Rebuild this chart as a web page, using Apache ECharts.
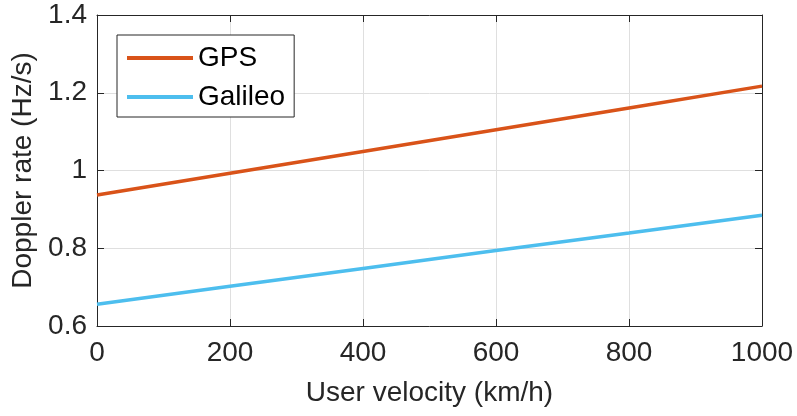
<!DOCTYPE html>
<html>
<head>
<meta charset="utf-8">
<script src="https://cdn.jsdelivr.net/npm/echarts@6/dist/echarts.min.js"></script>
<style>html,body{margin:0;padding:0;background:#fff}#c{width:797px;height:416px}</style>
</head>
<body>
<div id="c"></div>
<script>
var velocity = [0, 200, 400, 600, 800, 1000];
var gps = [0.937, 0.993, 1.049, 1.105, 1.161, 1.217];
var galileo = [0.656, 0.702, 0.748, 0.794, 0.839, 0.885];
var seriesNames = ['GPS', 'Galileo'];
var xTitle = 'User velocity (km/h)';
var yTitle = 'Doppler rate (Hz/s)';

var FONT = 'Liberation Sans, Arial, sans-serif';
var AX = '#262626';
var FS = 28;
function pairs(xs, ys){ return xs.map(function(x,i){ return [x, ys[i]]; }); }

var chart = echarts.init(document.getElementById('c'), null, {renderer:'canvas'});
var axisCommon = {
  axisLine:{show:true, onZero:false, lineStyle:{color:AX, width:1}},
  axisTick:{show:true, inside:true, length:7, lineStyle:{color:AX}},
  splitLine:{show:false}
};
chart.setOption({
  animation:false,
  backgroundColor:'#fff',
  grid:{left:97, right:35, top:15, bottom:90, containLabel:false},
  legend:{
    orient:'vertical', left:117, top:35,
    data:seriesNames,
    icon:'rect', itemWidth:66, itemHeight:4, itemGap:7,
    padding:[7,9,4,10],
    borderColor:AX, borderWidth:1, backgroundColor:'#fff',
    textStyle:{fontFamily:FONT, fontSize:FS, color:'#000', lineHeight:32}
  },
  xAxis:[
    Object.assign({type:'value', min:0, max:1000, interval:200, position:'bottom',
      name:xTitle, nameLocation:'middle', nameGap:53,
      nameTextStyle:{fontFamily:FONT, fontSize:FS, color:AX},
      axisLabel:{fontFamily:FONT, fontSize:FS, color:AX, margin:13,
        formatter:function(v){ return String(v); }}
    }, axisCommon, {splitLine:{show:true, lineStyle:{color:'#dfdfdf', width:1}}}),
    Object.assign({type:'value', min:0, max:1000, interval:200, position:'top',
      axisLabel:{show:false}}, axisCommon)
  ],
  yAxis:[
    Object.assign({type:'value', min:0.6, max:1.4, interval:0.2, position:'left',
      name:yTitle, nameLocation:'middle', nameGap:59,
      nameTextStyle:{fontFamily:FONT, fontSize:FS, color:AX},
      axisLabel:{fontFamily:FONT, fontSize:FS, color:AX, margin:10,
        formatter:function(v){ return String(Math.round(v*10)/10); }}
    }, axisCommon, {splitLine:{show:true, lineStyle:{color:'#dfdfdf', width:1}}}),
    Object.assign({type:'value', min:0.6, max:1.4, interval:0.2, position:'right',
      axisLabel:{show:false}}, axisCommon)
  ],
  series:[
    {name:seriesNames[0], type:'line', data:pairs(velocity, gps), symbol:'none',
      lineStyle:{color:'#D95319', width:3.5}, itemStyle:{color:'#D95319'}, z:3},
    {name:seriesNames[1], type:'line', data:pairs(velocity, galileo), symbol:'none',
      lineStyle:{color:'#4DBEEE', width:3.5}, itemStyle:{color:'#4DBEEE'}, z:3}
  ]
});
</script>
</body>
</html>
